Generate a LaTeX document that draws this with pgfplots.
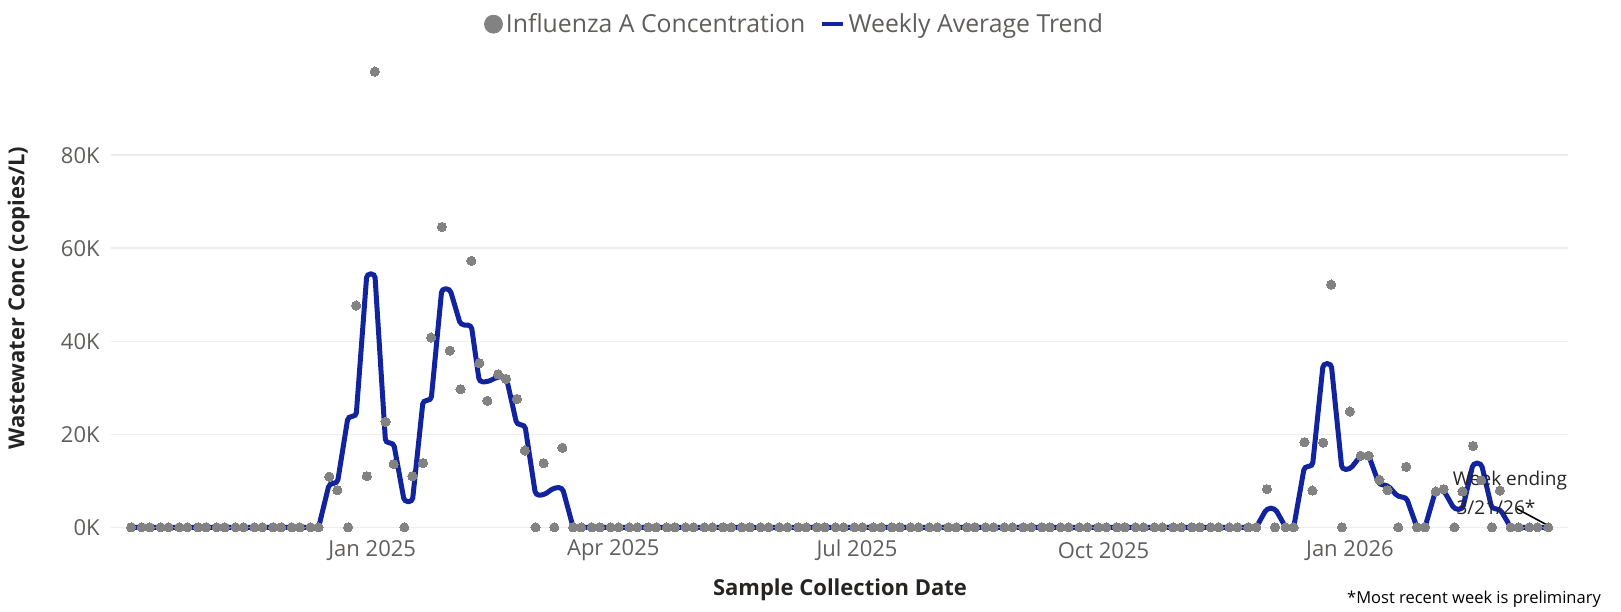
\documentclass[border=0pt]{standalone}
\usepackage{fontspec}
\setmainfont{Open Sans}
\usepackage{pgfplots}
\usepackage{pgfplotstable}
\pgfplotsset{compat=1.18}
\definecolor{dotgray}{HTML}{828282}
\definecolor{trendblue}{HTML}{12239E}
\definecolor{gridc}{HTML}{EDEDED}
\definecolor{ticklab}{HTML}{605E5C}
\definecolor{titlec}{HTML}{252423}
\pgfplotstableread[row sep=\\]{
d v w\\
-90 0 0\\ -86 0 0\\ -83 0 0\\ -79 0 0\\ -76 0 0\\ -72 0 0\\ -69 0 0\\ -65 0 0\\ -62 0 0\\ -58 0 0\\ -55 0 0\\
-51 0 0\\ -48 0 0\\ -44 0 0\\ -41 0 0\\ -37 0 0\\ -34 0 0\\ -30 0 0\\ -27 0 0\\ -23 0 0\\ -20 0 0\\
-16 10.9 9.45\\ -13 8.0 9.45\\
-9 0 23.85\\ -6 47.7 23.85\\
-2 11.0 54.5\\ 1 98.0 54.5\\
5 22.7 18.15\\ 8 13.6 18.15\\
12 0 5.5\\ 15 11.0 5.5\\
19 13.8 27.3\\ 22 40.8 27.3\\
26 64.6 51.3\\ 29 38.0 51.3\\
33 29.7 43.5\\ 37 57.3 43.5\\
40 35.3 31.25\\ 43 27.2 31.25\\
47 32.9 32.4\\ 50 31.9 32.4\\
54 27.6 22.05\\ 57 16.5 22.05\\
61 0 6.9\\ 64 13.8 6.9\\
68 0 8.55\\ 71 17.1 8.55\\
75 0 0\\ 78 0 0\\ 82 0 0\\ 85 0 0\\ 89 0 0\\ 92 0 0\\ 96 0 0\\ 99 0 0\\ 103 0 0\\ 106 0 0\\
110 0 0\\ 113 0 0\\ 117 0 0\\ 120 0 0\\ 124 0 0\\ 127 0 0\\ 131 0 0\\ 134 0 0\\ 138 0 0\\ 141 0 0\\
145 0 0\\ 148 0 0\\ 152 0 0\\ 155 0 0\\ 159 0 0\\ 162 0 0\\ 166 0 0\\ 169 0 0\\ 173 0 0\\ 176 0 0\\
180 0 0\\ 183 0 0\\ 187 0 0\\ 190 0 0\\ 194 0 0\\ 197 0 0\\ 201 0 0\\ 204 0 0\\ 208 0 0\\ 211 0 0\\
215 0 0\\ 218 0 0\\ 222 0 0\\ 225 0 0\\ 229 0 0\\ 232 0 0\\ 236 0 0\\ 239 0 0\\ 243 0 0\\ 246 0 0\\
250 0 0\\ 253 0 0\\ 257 0 0\\ 260 0 0\\ 264 0 0\\ 267 0 0\\ 271 0 0\\ 274 0 0\\ 278 0 0\\ 281 0 0\\
285 0 0\\ 288 0 0\\ 292 0 0\\ 295 0 0\\ 299 0 0\\ 302 0 0\\ 306 0 0\\ 309 0 0\\ 313 0 0\\ 316 0 0\\
320 0 0\\ 323 0 0\\ 327 0 0\\ 330 0 0\\
334 8.2 4.1\\ 337 0 4.1\\
341 0 0\\ 344 0 0\\
348 18.3 13.1\\ 351 7.9 13.1\\
355 18.2 35.2\\ 358 52.2 35.2\\
362 0 12.45\\ 365 24.9 12.45\\
369 15.4 15.4\\ 372 15.4 15.4\\
376 10.2 9.1\\ 379 8.0 9.1\\
383 0 6.5\\ 386 13.0 6.5\\
390 0 0\\ 393 0 0\\
397 7.7 7.95\\ 400 8.2 7.95\\
404 0 3.85\\ 407 7.7 3.85\\
411 17.5 13.8\\ 414 10.1 13.8\\
418 0 3.95\\ 421 7.9 3.95\\
425 0 0\\ 428 0 0\\ 432 0 0\\ 435 0 0\\
439 0 0\\
}\flu
\begin{document}
\begin{tikzpicture}[x=1pt,y=1pt]
\useasboundingbox (0,0) rectangle (810.5,305.5);
\begin{axis}[
  at={(55.5pt,41.85pt)}, anchor=south west,
  scale only axis, width=728.5pt, height=232.5pt,
  xmin=-97.5, xmax=446.4, ymin=0, ymax=100,
  clip=false,
  axis line style={draw=none},
  major tick length=0pt,
  ymajorgrids, grid style={gridc, line width=0.8pt},
  xtick={0,90,181,273,365},
  xticklabels={Jan 2025,Apr 2025,Jul 2025,Oct 2025,Jan 2026},
  ytick={0,20,40,60,80},
  yticklabels={0K,20K,40K,60K,80K},
  tick label style={font=\fontsize{11}{13}\selectfont, text=ticklab},
  xticklabel style={anchor=center, yshift=-11.5pt},
  yticklabel style={anchor=east, inner sep=0pt, xshift=-5.5pt},
  reverse legend,
  legend columns=2,
  legend style={at={(0.4695,1.082)}, anchor=center, draw=none, fill=none,
    font=\fontsize{12.4}{14}\selectfont, text=ticklab,
    nodes={inner sep=1.5pt},
    /tikz/every even column/.append style={column sep=6pt}},
]
\addplot[trendblue, line width=2.5pt, sharp plot, rounded corners=1.9pt,
  legend image code/.code={\draw[trendblue, line width=2.2pt] (0pt,0pt) -- (10.5pt,0pt);}]
  table[x=d, y=w] {\flu};
\addlegendentry{Weekly Average Trend}
\addplot[dotgray, only marks, mark=*, mark size=2.3pt, mark options={draw=dotgray, fill=dotgray, line width=0pt},
  legend image code/.code={\fill[dotgray] (4.5pt,0pt) circle (4.5pt);}]
  table[x=d, y=v] {\flu};
\addlegendentry{Influenza A Concentration}
\draw[black, line width=0.8pt] (axis cs:427.3,4.0) -- (axis cs:440.2,0);
\node[font=\fontsize{9.5}{11}\selectfont, text=titlec] at (axis cs:424.7,9.96) {Week ending};
\node[font=\fontsize{9.5}{11}\selectfont, text=titlec] at (axis cs:419.5,4.37) {3/21/26*};
\end{axis}
\node[font=\bfseries\fontsize{11}{13}\selectfont, text=titlec] at (420,10.5) {Sample Collection Date};
\node[font=\bfseries\fontsize{11}{13}\selectfont, text=titlec, rotate=90] at (9.3,156.5) {Wastewater Conc (copies/L)};
\node[font=\fontsize{8.25}{10}\selectfont, text=black] at (737,6) {*Most recent week is preliminary};
\end{tikzpicture}
\end{document}
